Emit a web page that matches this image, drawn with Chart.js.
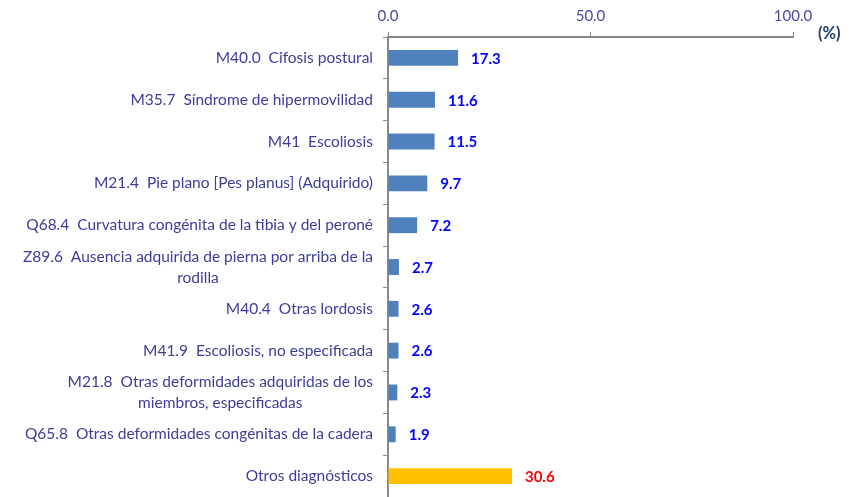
<!DOCTYPE html>
<html>
<head>
<meta charset="utf-8">
<script src="https://cdn.jsdelivr.net/npm/chart.js@4/dist/chart.umd.min.js"></script>
<style>
  html, body { margin: 0; padding: 0; background: #fff; }
  #wrap { width: 856px; height: 497px; }
</style>
</head>
<body>
<div id="wrap"><canvas id="cntx_diag"></canvas></div>
<script>
const diag_labels = [
	"M40.0  Cifosis postural",
	"M35.7  Síndrome de hipermovilidad",
	"M41  Escoliosis",
	"M21.4  Pie plano [Pes planus] (Adquirido)",
	"Q68.4  Curvatura congénita de la tibia y del peroné",
	["Z89.6  Ausencia adquirida de pierna por arriba de la", "rodilla"],
	"M40.4  Otras lordosis",
	"M41.9  Escoliosis, no especificada",
	["M21.8  Otras deformidades adquiridas de los", "miembros, especificadas"],
	"Q65.8  Otras deformidades congénitas de la cadera",
	"Otros diagnósticos",
];
const diag_percent = [17.3, 11.6, 11.5, 9.7, 7.2, 2.7, 2.6, 2.6, 2.3, 1.9, 30.6];
const x_ticks = [0, 50, 100];

const font_family = "Lato, 'Open Sans', sans-serif";
const label_color = "#3d3d99";

// category labels drawn by hand so wrapped lines can be centred like the original
const categoryLabels = {
	id: "categoryLabels",
	afterDraw(chart) {
		const ctx = chart.ctx;
		const ys = chart.scales.y;
		const right = ys.right - 15;
		const lineH = 21;
		ctx.save();
		ctx.font = "15.5px " + font_family;
		ctx.fillStyle = label_color;
		ctx.textBaseline = "middle";
		ctx.textAlign = "center";
		diag_labels.forEach((lab, i) => {
			const lines = Array.isArray(lab) ? lab : [lab];
			const w = Math.max(...lines.map((l) => ctx.measureText(l).width));
			const cx = right - w / 2;
			const cy = ys.getPixelForValue(i);
			lines.forEach((l, j) => {
				ctx.fillText(l, cx, cy + (j - (lines.length - 1) / 2) * lineH);
			});
		});
		ctx.restore();
	},
};

const valueLabels = {
	id: "valueLabels",
	afterDatasetsDraw(chart) {
		const ctx = chart.ctx;
		const meta = chart.getDatasetMeta(0);
		ctx.save();
		ctx.font = "bold 15px " + font_family;
		ctx.textBaseline = "middle";
		ctx.textAlign = "left";
		meta.data.forEach((bar, i) => {
			ctx.fillStyle = i === diag_percent.length - 1 ? "#ff0000" : "#0000ff";
			ctx.fillText(diag_percent[i].toFixed(1), bar.x + 13, bar.y + 1);
		});
		// unit label at the end of the x axis
		const xs = chart.scales.x;
		ctx.fillStyle = "#1f3f6f";
		ctx.font = "bold 16.5px " + font_family;
		ctx.fillText("(%)", xs.right + 25, xs.bottom - 3);
		ctx.restore();
	},
};

const drawChart = (canvas) => {
	new Chart(canvas, {
		type: "bar",
		data: {
			labels: diag_labels,
			datasets: [
				{
					data: diag_percent,
					backgroundColor: diag_percent.map((v, i) =>
						i === diag_percent.length - 1 ? "#ffc000" : "#4f81bd"
					),
					barPercentage: 0.38,
					categoryPercentage: 1.0,
				},
			],
		},
		options: {
			indexAxis: "y",
			responsive: true,
			maintainAspectRatio: false,
			animation: false,
			layout: { padding: { top: 0, right: 63, bottom: -2, left: 0 } },
			plugins: {
				legend: { display: false },
				tooltip: { enabled: false },
			},
			scales: {
				x: {
					position: "top",
					min: 0,
					max: 100,
					afterBuildTicks: (scale) => {
						scale.ticks = x_ticks.map((v) => ({ value: v }));
					},
					afterFit: (scale) => {
						scale.height = 37;
						scale.paddingLeft = 0;
						scale.paddingRight = 0;
					},
					ticks: {
						callback: (v) => Number(v).toFixed(1),
						color: "#4a4a9a",
						font: { family: font_family, size: 15 },
						padding: 7,
						maxRotation: 0,
					},
					grid: {
						drawOnChartArea: false,
						drawTicks: true,
						tickLength: 5,
						color: "#888888",
					},
					border: { color: "#888888", width: 2 },
				},
				y: {
					afterFit: (scale) => {
						scale.width = 388;
						scale.paddingTop = 0;
						scale.paddingBottom = 0;
					},
					ticks: {
						color: "rgba(0,0,0,0)",
						font: { family: font_family, size: 12 },
						padding: 10,
					},
					grid: {
						offset: true,
						drawOnChartArea: false,
						drawTicks: true,
						tickLength: 5,
						color: "#888888",
					},
					border: { color: "#888888", width: 2 },
				},
			},
		},
		plugins: [valueLabels, categoryLabels],
	});
};

drawChart(document.querySelector("#cntx_diag"));
</script>
</body>
</html>
